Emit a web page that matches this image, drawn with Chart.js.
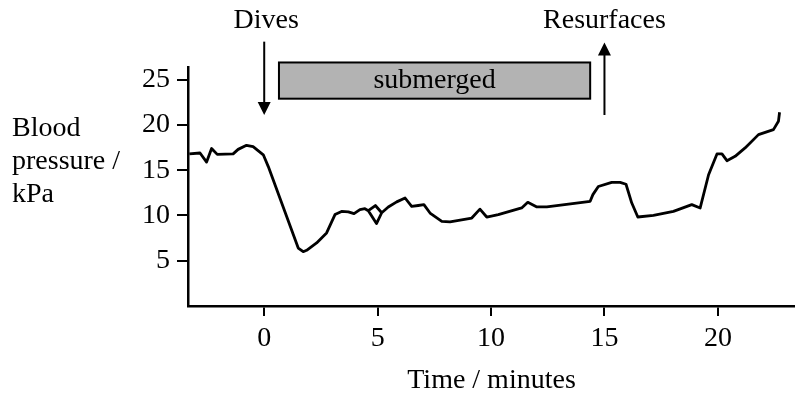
<!DOCTYPE html>
<html>
<head>
<meta charset="utf-8">
<script src="https://cdn.jsdelivr.net/npm/chart.js@4"></script>
<style>
body{margin:0;background:#fff;}
</style>
</head>
<body>
<canvas id="plot" width="795" height="405"></canvas>
<script>
// time (minutes) and blood pressure (kPa)
const timeMin = [-3.3,-2.83,-2.54,-2.32,-2.07,-1.37,-1.15,-0.78,-0.49,-0.04,0.18,1.5,1.72,1.87,2.31,2.75,3.12,3.41,3.71,3.96,4.22,4.44,4.59,4.95,5.18,4.9,4.59,4.9,5.18,5.47,5.84,6.21,6.5,6.79,7.04,7.31,7.83,8.19,9.15,9.51,9.81,10.32,11.35,11.62,12.02,12.46,14.37,14.49,14.73,15.32,15.69,15.95,16.2,16.47,17.16,18.04,18.85,19.22,19.59,19.96,20.18,20.4,20.76,21.2,21.79,22.45,22.67,22.72];
const pressureKpa = [16.8,16.9,15.9,17.4,16.75,16.8,17.3,17.75,17.6,16.7,15.4,6.4,6.0,6.15,6.96,8.07,10.1,10.45,10.4,10.2,10.64,10.75,10.53,9.1,10.3,11.1,10.53,11.1,10.3,10.94,11.5,11.93,11.0,11.1,11.2,10.27,9.35,9.3,9.72,10.7,9.83,10.09,10.83,11.45,10.94,10.94,11.56,12.3,13.2,13.66,13.66,13.45,11.4,9.83,10.0,10.45,11.2,10.83,14.5,16.8,16.8,16.05,16.53,17.46,18.93,19.48,20.4,21.4];
const xTicks = [0,5,10,15,20];
const yTicks = [5,10,15,20,25];
const yTitle = ['Blood','pressure /','kPa'];
const xTitle = 'Time / minutes';
const submergedFrom = 0.65, submergedTo = 14.37;
const diveAt = 0, resurfaceAt = 15;

const FONT = '"Liberation Serif", "Times New Roman", serif';

const notes = {
  id:'notes',
  afterDraw(chart){
    const c = chart.ctx, x = chart.scales.x, y = chart.scales.y;
    const area = chart.chartArea;
    c.save();
    c.fillStyle = '#000';
    c.font = '28px ' + FONT;
    c.textBaseline = 'alphabetic';
    // y title, left aligned
    c.textAlign = 'left';
    yTitle.forEach((t,i)=>c.fillText(t, 12, 136 + i*33));
    // x title, centred on the axis
    c.textAlign = 'center';
    c.fillText(xTitle, (area.left + area.right)/2, 388);

    // submerged box
    const bx0 = x.getPixelForValue(submergedFrom), bx1 = x.getPixelForValue(submergedTo);
    const by0 = y.getPixelForValue(26.9), by1 = y.getPixelForValue(22.9);
    c.fillStyle = '#b3b3b3';
    c.fillRect(bx0, by0, bx1-bx0, by1-by0);
    c.strokeStyle = '#000';
    c.lineWidth = 2;
    c.strokeRect(bx0, by0, bx1-bx0, by1-by0);
    c.fillStyle = '#000';
    c.textBaseline = 'middle';
    c.fillText('submerged', (bx0+bx1)/2, (by0+by1)/2);

    // arrows
    function arrow(px, yFrom, yTo){
      c.beginPath();
      c.lineWidth = 2;
      c.moveTo(px, yFrom);
      c.lineTo(px, yTo + (yTo>yFrom ? -10 : 10));
      c.stroke();
      const d = yTo>yFrom ? -1 : 1;
      c.beginPath();
      c.moveTo(px, yTo);
      c.lineTo(px-6.5, yTo + d*13);
      c.lineTo(px+6.5, yTo + d*13);
      c.closePath();
      c.fill();
    }
    const dx = x.getPixelForValue(diveAt), rx = x.getPixelForValue(resurfaceAt);
    arrow(dx, y.getPixelForValue(29.2), y.getPixelForValue(21.1));
    arrow(rx, y.getPixelForValue(21.1), y.getPixelForValue(29.1));
    c.textBaseline = 'alphabetic';
    c.fillText('Dives', dx + 2, 28);
    c.fillText('Resurfaces', rx, 28);
    c.restore();
  }
};

const pts = timeMin.map((t,i)=>({x:t, y:pressureKpa[i]}));

const config = {
  type:'scatter',
  data:{
    datasets:[{
      data:pts,
      showLine:true,
      borderColor:'#000',
      borderWidth:2.8,
      borderJoinStyle:'round',
      pointRadius:0,
      tension:0,
      fill:false
    }]
  },
  options:{
    responsive:false,
    animation:false,
    layout:{padding:{top:67,right:0,left:0,bottom:0}},
    plugins:{legend:{display:false},tooltip:{enabled:false}},
    scales:{
      x:{
        type:'linear',
        min:-3.36, max:23.4,
        afterBuildTicks:(s)=>{s.ticks = xTicks.map(v=>({value:v}));},
        afterFit:(s)=>{s.height = 99;},
        grid:{drawOnChartArea:false, drawTicks:true, tickLength:10, color:'#000', lineWidth:2},
        border:{display:true, color:'#000', width:2.5},
        ticks:{color:'#000', font:{family:FONT, size:28}, padding:6, maxRotation:0}
      },
      y:{
        type:'linear',
        min:0, max:26.4,
        afterBuildTicks:(s)=>{s.ticks = yTicks.map(v=>({value:v}));},
        afterFit:(s)=>{s.width = 188;},
        grid:{drawOnChartArea:false, drawTicks:true, tickLength:11, color:'#000', lineWidth:2},
        border:{display:true, color:'#000', width:2.5},
        ticks:{color:'#000', font:{family:FONT, size:28}, padding:7}
      }
    }
  },
  plugins:[notes]
};

let ctx = document.getElementById('plot').getContext('2d');
let chart = new Chart(ctx, config);
</script>
</body>
</html>
